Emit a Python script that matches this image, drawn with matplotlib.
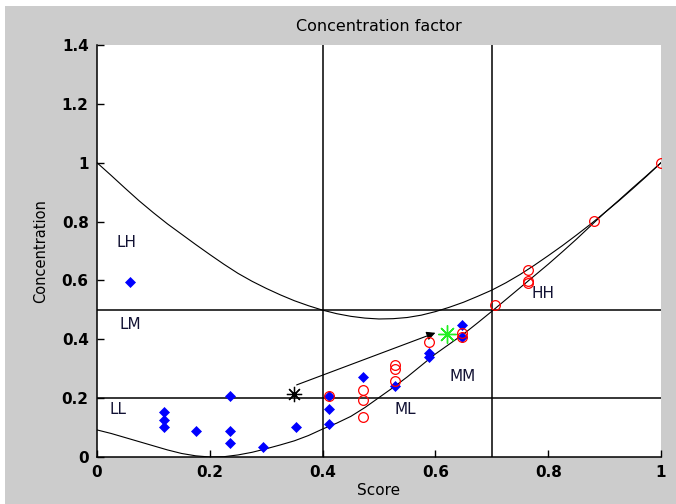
import numpy as np
import matplotlib
matplotlib.use('Agg')
import matplotlib.pyplot as plt
from matplotlib.patches import Rectangle

# data
curve_x = [0.000, 0.025, 0.050, 0.075, 0.100, 0.125, 0.150, 0.175, 0.200, 0.225,
           0.250, 0.275, 0.300, 0.325, 0.350, 0.375, 0.400, 0.425, 0.450, 0.475,
           0.500, 0.525, 0.550, 0.575, 0.600, 0.625, 0.650, 0.675, 0.700, 0.725,
           0.750, 0.775, 0.800, 0.825, 0.850, 0.875, 0.900, 0.925, 0.950, 0.975, 1.000]
upper_curve = [1.000, 0.957, 0.913, 0.870, 0.830, 0.792, 0.757, 0.722, 0.688, 0.655,
               0.624, 0.597, 0.573, 0.551, 0.531, 0.514, 0.499, 0.487, 0.478, 0.472,
               0.469, 0.470, 0.474, 0.482, 0.494, 0.509, 0.526, 0.546, 0.567, 0.592,
               0.620, 0.651, 0.684, 0.718, 0.754, 0.791, 0.830, 0.870, 0.912, 0.955, 1.000]
lower_curve = [0.092, 0.080, 0.066, 0.052, 0.038, 0.024, 0.012, 0.004, 0.000, 0.001,
               0.007, 0.016, 0.028, 0.041, 0.055, 0.073, 0.095, 0.115, 0.138, 0.168,
               0.202, 0.236, 0.272, 0.311, 0.350, 0.384, 0.418, 0.456, 0.495, 0.535,
               0.575, 0.615, 0.655, 0.697, 0.740, 0.785, 0.830, 0.872, 0.915, 0.957, 1.000]

blue_x = [0.059, 0.118, 0.118, 0.118, 0.176, 0.235, 0.235, 0.235, 0.294, 0.353,
          0.412, 0.412, 0.412, 0.471, 0.529, 0.588, 0.588, 0.647, 0.647]
blue_y = [0.594, 0.152, 0.127, 0.102, 0.088, 0.208, 0.088, 0.049, 0.035, 0.102,
          0.207, 0.162, 0.113, 0.273, 0.241, 0.354, 0.339, 0.449, 0.407]

red_x = [0.412, 0.471, 0.471, 0.471, 0.529, 0.529, 0.529, 0.588, 0.647, 0.647,
         0.706, 0.765, 0.765, 0.765, 0.882, 1.0]
red_y = [0.207, 0.226, 0.192, 0.137, 0.311, 0.299, 0.259, 0.391, 0.421, 0.407,
         0.517, 0.637, 0.598, 0.590, 0.802, 1.0]

hlines = [0.2, 0.5]
vlines = [0.4, 0.7]

start_pt = (0.35, 0.214)
arrow_from = (0.354, 0.245)
arrow_to = (0.600, 0.422)
target_pt = (0.62, 0.417)

region_names = ['LH', 'LM', 'LL', 'ML', 'MM', 'HH']
region_x = [0.053, 0.059, 0.037, 0.546, 0.649, 0.79]
region_y = [0.73, 0.449, 0.16, 0.16, 0.275, 0.557]

fig = plt.figure(figsize=(6.76, 5.04), dpi=100, facecolor='#cccccc')
# white strip on top and left like the screenshot
fig.patches.append(Rectangle((0, 1 - 6 / 504), 1, 6 / 504, transform=fig.transFigure,
                             facecolor='white', edgecolor='none', zorder=-1))
fig.patches.append(Rectangle((0, 0), 5 / 676, 1, transform=fig.transFigure,
                             facecolor='white', edgecolor='none', zorder=-1))

ax = fig.add_axes([97 / 676, 47 / 504, 564 / 676, 412 / 504])
ax.set_facecolor('white')

for y in hlines:
    ax.plot([0, 1], [y, y], color='k', lw=1.1)
for x in vlines:
    ax.plot([x, x], [0, 1.4], color='k', lw=1.1)

ax.plot(curve_x, upper_curve, color='k', lw=0.8)
ax.plot(curve_x, lower_curve, color='k', lw=0.8)

ax.plot(blue_x, blue_y, 'D', color='blue', markersize=5, markeredgewidth=0.5, zorder=3)
ax.plot(red_x, red_y, 'o', markerfacecolor='none', markeredgecolor='red',
        markersize=7, markeredgewidth=0.9, zorder=4)

ax.annotate('', xy=arrow_to, xytext=arrow_from,
            arrowprops=dict(arrowstyle='-|>', color='k', lw=0.8,
                            mutation_scale=13, shrinkA=0, shrinkB=0))
ax.plot(*start_pt, marker=(8, 2, 0), color='k', markersize=11, markeredgewidth=0.9, zorder=5)
ax.plot(*target_pt, marker=(8, 2, 0), color='#22ee22', markersize=13, markeredgewidth=1.0, zorder=5)

for name, x, y in zip(region_names, region_x, region_y):
    ax.text(x, y, name, fontsize=11, ha='center', va='center', color='#111133')

ax.set_xlim(0, 1)
ax.set_ylim(0, 1.4)
ax.set_xticks([0, 0.2, 0.4, 0.6, 0.8, 1])
ax.set_xticklabels(['0', '0.2', '0.4', '0.6', '0.8', '1'])
ax.set_yticks([0, 0.2, 0.4, 0.6, 0.8, 1, 1.2, 1.4])
ax.set_yticklabels(['0', '0.2', '0.4', '0.6', '0.8', '1', '1.2', '1.4'])
ax.tick_params(direction='in', length=5, width=1, labelsize=11, pad=6)
for lab in ax.get_xticklabels() + ax.get_yticklabels():
    lab.set_fontweight('bold')

ax.spines['top'].set_visible(False)
ax.spines['right'].set_visible(False)
ax.spines['left'].set_linewidth(1.1)
ax.spines['bottom'].set_linewidth(1.1)

ax.set_title('Concentration factor', fontsize=11.5, pad=10)
ax.set_xlabel('Score', fontsize=11, labelpad=2)
ax.set_ylabel('Concentration', fontsize=10.5, labelpad=10)

plt.savefig('out.png', dpi=100, facecolor=fig.get_facecolor())
